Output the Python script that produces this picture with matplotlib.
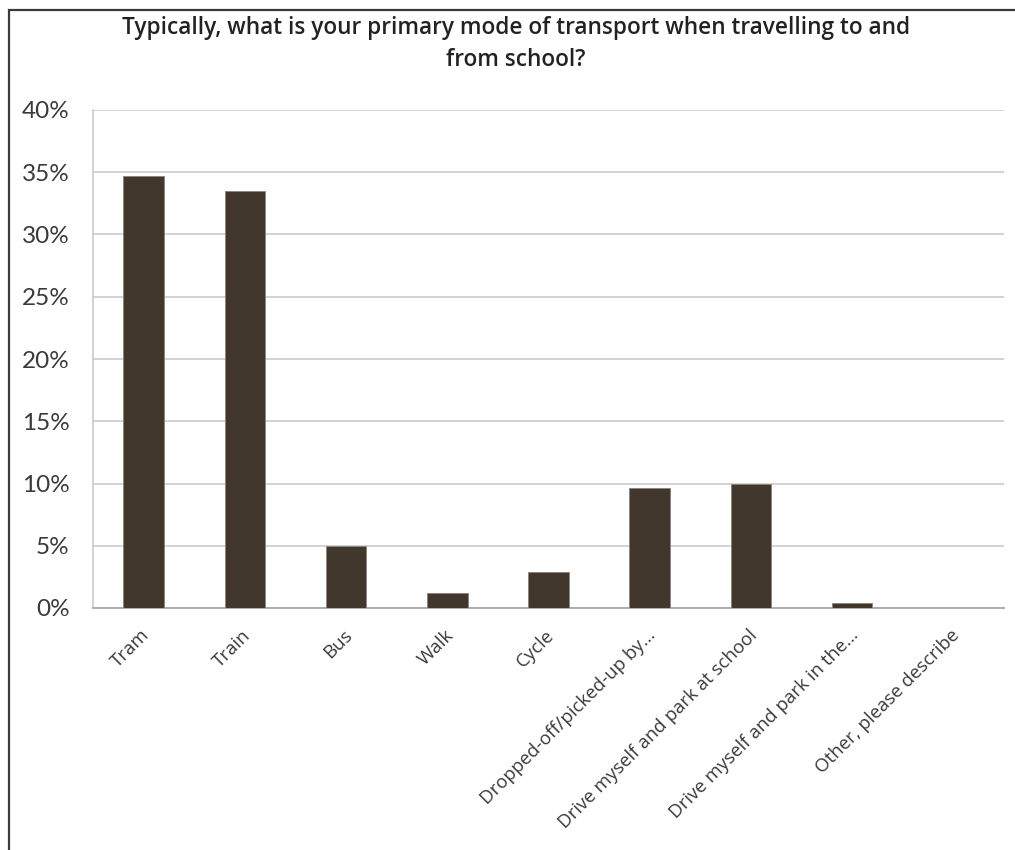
import matplotlib
matplotlib.use("Agg")
import matplotlib.pyplot as plt
from matplotlib.patches import Rectangle
from matplotlib.ticker import FuncFormatter, MultipleLocator
import matplotlib.transforms as mtransforms

title_text = "Typically, what is your primary mode of transport when travelling to and\nfrom school?"
categories = [
    "Tram",
    "Train",
    "Bus",
    "Walk",
    "Cycle",
    "Dropped-off/picked-up by...",
    "Drive myself and park at school",
    "Drive myself and park in the...",
    "Other, please describe",
]
shares = [34.7, 33.5, 5.0, 1.2, 2.9, 9.6, 10.0, 0.4, 0.0]

plt.rcParams["font.family"] = ["Lato", "DejaVu Sans"]

fig = plt.figure(figsize=(10.15, 8.5), dpi=100)
fig.patch.set_facecolor("white")

# outer frame (left and top edges visible)
frame = Rectangle((8.5 / 1015, -0.2), 1.2, 1.2 - 10 / 850,
                  transform=fig.transFigure, fill=False,
                  edgecolor="#3a3a3a", linewidth=1.6, zorder=0)
fig.patches.append(frame)

ax = fig.add_axes([93 / 1015, 1 - 608 / 850, (1004 - 93) / 1015, (608 - 110) / 850])

x = range(len(categories))
ax.bar(x, shares, width=0.4, color="#41372c", edgecolor="#8c8680",
       linewidth=0.7, zorder=3)

ax.set_xlim(-0.5, len(categories) - 0.5)
ax.set_ylim(0, 40)
ax.yaxis.set_major_locator(MultipleLocator(5))
ax.yaxis.set_major_formatter(FuncFormatter(lambda v, p: f"{v:.0f}%"))
ax.grid(axis="y", color="#c6c6c6", linewidth=1.1, zorder=0)
ax.set_axisbelow(True)

for side in ["top", "right"]:
    ax.spines[side].set_visible(False)
ax.spines["left"].set_color("#c6c6c6")
ax.spines["left"].set_linewidth(1.1)
ax.spines["bottom"].set_color("#a8a8a8")
ax.spines["bottom"].set_linewidth(1.3)

ax.tick_params(axis="y", length=0, pad=17, labelsize=17.5, labelcolor="#3a3a3a")
ax.tick_params(axis="x", length=0, pad=13, labelcolor="#3a3a3a")

ax.set_xticks(list(x))
ax.set_xticklabels(categories, rotation=45, ha="right", va="top",
                   rotation_mode="anchor", fontsize=13.4,
                   family=["Open Sans", "DejaVu Sans"])
nudge = mtransforms.ScaledTranslation(-3 / 100, 0, fig.dpi_scale_trans)
for lbl in ax.get_xticklabels():
    lbl.set_transform(lbl.get_transform() + nudge)

fig.text(0.508, 1 - 44 / 850, title_text, ha="center", va="center",
         fontsize=16.3, fontweight="semibold", color="#222222",
         family=["Open Sans", "DejaVu Sans"], linespacing=1.45)

fig.savefig("out.png", dpi=100, facecolor="white")
